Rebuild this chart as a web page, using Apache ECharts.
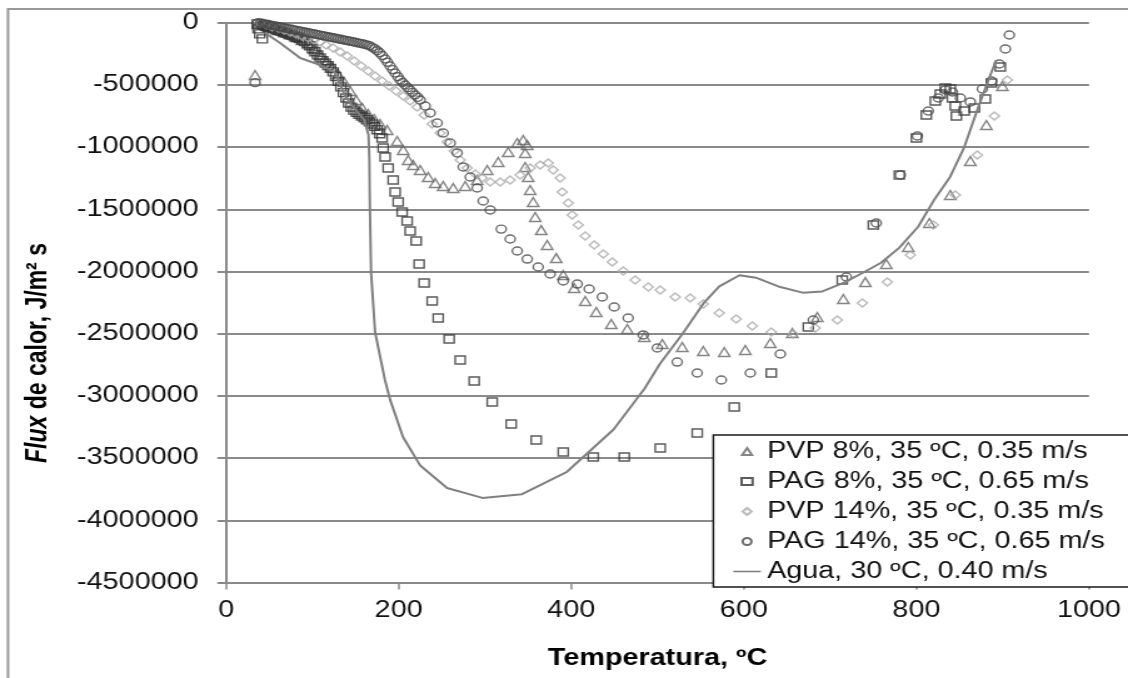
<!DOCTYPE html>
<html>
<head>
<meta charset="utf-8">
<script src="https://cdn.jsdelivr.net/npm/echarts@6/dist/echarts.min.js"></script>
<style>
html,body{margin:0;padding:0;background:#fff;overflow:hidden;}
#wrap{width:1128px;height:678px;overflow:hidden;position:relative;background:#fff;}
#c{width:902px;height:678px;transform:scaleX(1.25055);transform-origin:0 0;}
</style>
</head>
<body>
<div id="wrap"><div id="c"></div></div>
<script>
// ---- DATA (Temperatura ºC, Flux de calor J/m2 s) ----
const seriesNames = [
  'PVP 8%, 35 ºC, 0.35 m/s',
  'PAG 8%, 35 ºC, 0.65 m/s',
  'PVP 14%, 35 ºC, 0.35 m/s',
  'PAG 14%, 35 ºC, 0.65 m/s',
  'Agua, 30 ºC, 0.40 m/s'
];
const xAxisTitle = 'Temperatura, ºC';
const yAxisTitleItalic = 'Flux';
const yAxisTitleRest = ' de calor, J/m² s';

const pvp8 = [
  [33.6,-420000],[37,-10000],[41.7,-10500],[47.5,-26500],[53.3,-42600],[60.3,-58700],[67.2,-74800],
  [74.2,-90800],[81.2,-115000],[88.1,-139000],[95.1,-171000],[102,-211000],[109,-260000],
  [115.9,-308000],[122.9,-356000],[129.8,-412000],[136.8,-477000],[143.8,-549000],[150.7,-621000],
  [157.7,-686000],[164.6,-734000],[171.6,-774000],[178.5,-814000],[186.6,-863000],[198.2,-951000],
  [205.2,-1023000],[211,-1104000],[216.8,-1144000],[224.9,-1184000],[234.2,-1240000],[242.3,-1289000],
  [251.6,-1313000],[263.2,-1329000],[277.1,-1313000],[291,-1265000],[302.6,-1184000],[315.3,-1120000],
  [326.9,-1039000],[337.4,-967000],[344.3,-943000],[349,-983000],[346.6,-1047000],[346.6,-1160000],
  [350.1,-1240000],[352.4,-1345000],[355.9,-1441000],[358.2,-1562000],[365.2,-1667000],[372.1,-1787000],
  [382.6,-1892000],[390.7,-2028000],[403.4,-2133000],[416.2,-2237000],[428.9,-2326000],[446.3,-2422000],
  [464.9,-2462000],[484.6,-2527000],[505.5,-2583000],[528.6,-2607000],[553,-2639000],[577.3,-2647000],
  [601.7,-2631000],[630.7,-2575000],[656.2,-2494000],[685.1,-2366000],[715.3,-2221000],[740.8,-2085000],
  [765.1,-1940000],[790.6,-1803000],[815,-1610000],[839.3,-1385000],[862.5,-1112000],[881.1,-822000],
  [899.6,-509000]
];
const pag8 = [
  [36,-10000],[37,-50000],[39,-90000],[42,-130000],[43,-20000],[46,-28000],[49,-35000],[52,-41000],
  [55,-50000],[58,-58000],[61,-64000],[64,-70000],[67,-79000],[70,-86000],[73,-95000],[76,-102000],
  [79,-111000],[82,-119000],[85,-128000],[88,-140000],[91,-152000],[94,-166000],[97,-185000],
  [100,-208000],[103,-234000],[106,-259000],[109,-283000],[112,-305000],[115,-325000],[118,-345000],
  [121,-367000],[124,-395000],[127,-433000],[130,-472000],[133,-516000],[136,-562000],[139,-605000],
  [142,-645000],[145,-679000],[148,-703000],[151,-720000],[154,-736000],[157,-750000],[160,-764000],
  [163,-780000],[166,-797000],[169,-814000],[172,-833000],[175,-860000],[178,-893000],[180.8,-927000],
  [182,-1007000],[184.3,-1080000],[187.8,-1168000],[193.6,-1265000],
  [195.9,-1361000],[199.4,-1441000],[204,-1522000],[209.8,-1594000],[213.3,-1675000],[220.3,-1755000],
  [223.7,-1940000],[229.5,-2093000],[238.8,-2237000],[245.8,-2374000],[258.5,-2543000],[271.3,-2712000],
  [287.5,-2880000],[308.4,-3049000],[330.4,-3226000],[359.4,-3355000],[390.7,-3451000],[425.5,-3491000],
  [461.4,-3491000],[503.1,-3419000],[546,-3298000],[588.9,-3089000],[631.8,-2816000],[674.7,-2446000],
  [714.1,-2068000],[750.1,-1626000],[780.2,-1224000],[800,-927000],[811.5,-742000],[821.9,-629000],
  [827.7,-573000],[833.5,-525000],[839.3,-533000],[841.7,-605000],[845.1,-670000],[846.3,-750000],
  [855.5,-710000],[867.2,-686000],[879.9,-613000],[886.9,-485000],[897.3,-356000]
];
const pvp14 = [
  [39.4,-2400],[46.4,-18500],[53.3,-34600],[60.3,-42600],[67.2,-58700],[74.2,-74800],[81.2,-90800],
  [88.1,-106900],[95.1,-123000],[102,-139000],[109,-155000],[115.9,-179000],[124,-203000],[132.2,-236000],
  [140.3,-268000],[148.4,-308000],[156.5,-348000],[164.6,-388000],[172.7,-428000],[180.8,-469000],
  [189,-509000],[197.1,-549000],[205.2,-589000],[213.3,-629000],[221.4,-678000],[229.5,-742000],
  [238.8,-814000],[248.1,-887000],[256.2,-959000],[264.3,-1031000],[271.3,-1104000],[279.4,-1168000],
  [288.7,-1216000],[296.8,-1248000],[306.1,-1281000],[317.7,-1281000],[329.2,-1265000],[340.8,-1224000],
  [352.4,-1168000],[364,-1144000],[373.3,-1128000],[379.1,-1184000],[387.2,-1248000],[389.5,-1361000],
  [396.5,-1449000],[401.1,-1546000],[408.1,-1626000],[416.2,-1715000],[426.6,-1787000],[437.1,-1860000],
  [447.5,-1924000],[460.2,-1996000],[474.1,-2068000],[489.2,-2125000],[503.1,-2149000],[520.5,-2205000],
  [537.9,-2213000],[553,-2261000],[571.5,-2334000],[591.2,-2382000],[609.8,-2438000],[631.8,-2486000],
  [657.3,-2503000],[682.8,-2454000],[708.3,-2390000],[737.3,-2253000],[766.3,-2085000],[793,-1868000],
  [819.6,-1626000],[845.1,-1385000],[870.6,-1063000],[890.3,-750000],[905.4,-461000]
];
const pag14 = [
  [33.6,-482000],[37,-1000],[40,-3500],[43,-7000],[46,-11500],[49,-15000],[52,-20000],[55,-23500],
  [58,-28500],[61,-32000],[64,-37000],[67,-40500],[70,-45000],[73,-49500],[76,-53000],[79,-58000],
  [82,-61500],[85,-66500],[88,-70000],[91,-74500],[94,-78500],[97,-83000],[100,-87500],[103,-91000],
  [106,-96000],[109,-99500],[112,-104500],[115,-108000],[118,-113000],[121,-116500],[124,-121500],
  [127,-125000],[130,-130000],[133,-133500],[136,-138500],[139,-142000],[142,-147000],[145,-150500],
  [148,-155500],[151,-159000],[154,-164000],[157,-168000],[160,-173500],[163,-178000],[166,-185000],
  [169,-196000],[172,-208000],[175,-225000],[178,-242000],[181,-264000],[184.3,-292000],[187,-318000],
  [190.1,-348000],[193,-377000],[195.9,-404000],[199,-434000],[201.7,-461000],[204.5,-481000],
  [207.5,-501000],[210.5,-522000],[213.3,-541000],[216,-560000],[219.1,-581000],[222,-600000],
  [224.9,-621000],[230.7,-670000],[236.5,-726000],[244.6,-806000],[251.6,-887000],
  [259.7,-967000],[267.8,-1047000],[274.8,-1160000],[282.9,-1240000],[291,-1329000],[297.9,-1433000],
  [306.1,-1506000],[318.8,-1659000],[329.2,-1739000],[337.4,-1835000],[349,-1900000],[361.7,-1964000],
  [375.6,-2020000],[390.7,-2076000],[406.9,-2101000],[420.8,-2141000],[435.9,-2205000],[449.8,-2285000],
  [466,-2374000],[483.4,-2510000],[499.7,-2615000],[522.8,-2728000],[546,-2816000],[573.9,-2872000],
  [607.5,-2816000],[642.3,-2663000],[680.5,-2390000],[718.8,-2044000],[753.5,-1610000],[781.4,-1224000],
  [801.1,-911000],[813.8,-710000],[825.4,-605000],[833.5,-541000],[841.7,-557000],[850.9,-605000],
  [862.5,-637000],[876.4,-533000],[886.9,-469000],[896.1,-332000],[903.1,-211000],[907.7,-99000]
];
const agua = [
  [45,-80000],[62.6,-163000],[85.8,-284000],[109,-340000],[126,-400000],[138,-590000],[150,-700000],
  [160,-780000],[165,-900000],[166,-1100000],[166.5,-1430000],[168,-2010000],[172.7,-2490000],
  [184,-2870000],[190,-3030000],[205,-3330000],[225,-3560000],[256,-3740000],[297,-3820000],
  [343,-3790000],[395,-3610000],[449,-3270000],[485,-2940000],[503,-2740000],[529,-2500000],
  [554,-2250000],[571.5,-2120000],[595,-2030000],[614,-2050000],[640,-2120000],[668,-2170000],
  [691,-2160000],[716,-2090000],[738,-2010000],[759,-1930000],[780,-1810000],[802,-1640000],
  [820,-1430000],[839,-1240000],[855.5,-1000000],[870.6,-700000],[885.7,-420000],[892.6,-300000]
];

const FONT = '"Liberation Sans", Arial, sans-serif';
const chart = echarts.init(document.getElementById('c'));

function scatter(name, data, symbol, size, color) {
  return {
    name: name, type: 'scatter', data: data, symbol: symbol, symbolSize: size,
    itemStyle: { color: 'rgba(0,0,0,0)', borderColor: color, borderWidth: 1.4 },
    emphasis: { disabled: true }
  };
}

const legendIcons = [
  'path://M5,0L10,9L0,9Z',
  'path://M0,0L10,0L10,8L0,8Z',
  'path://M5,0L10,5L5,10L0,5Z',
  'path://M10,5A5,5,0,1,1,0,5A5,5,0,1,1,10,5Z',
  'path://M0,0L22,0L22,1.6L0,1.6Z'
];

chart.setOption({
  animation: false,
  backgroundColor: '#fff',
  grid: { left: 180.8, right: 31.2, top: 22.7, bottom: 95.5, containLabel: false },
  xAxis: {
    type: 'value', min: 0, max: 1000, interval: 200,
    name: xAxisTitle, nameLocation: 'middle', nameGap: 65,
    nameTextStyle: { fontFamily: FONT, fontSize: 23, fontWeight: 'bold', color: '#000' },
    axisLine: { show: true, onZero: false, lineStyle: { color: '#8a8a8a', width: 2 } },
    axisTick: { show: true, inside: false, length: 7, lineStyle: { color: '#8a8a8a', width: 1.5 } },
    axisLabel: { fontFamily: FONT, fontSize: 23, color: '#111', margin: 17,
      formatter: function (v) { return String(v); } },
    splitLine: { show: false }
  },
  yAxis: {
    type: 'value', min: -4500000, max: 0, interval: 500000,
    axisLine: { show: true, onZero: false, lineStyle: { color: '#8a8a8a', width: 2 } },
    axisTick: { show: true, inside: false, length: 7, lineStyle: { color: '#8a8a8a', width: 2 } },
    axisLabel: { fontFamily: FONT, fontSize: 23, color: '#111', margin: 22,
      formatter: function (v) { return String(v); } },
    splitLine: { show: true, lineStyle: { color: '#8a8a8a', width: 2 } }
  },
  legend: {
    orient: 'vertical', left: 570.4, top: 435,
    padding: [5, 60, 4, 16], itemGap: 7, itemWidth: 22, itemHeight: 7,
    symbolKeepAspect: true,
    backgroundColor: '#fff', borderColor: '#1a1a1a', borderWidth: 1.5,
    textStyle: { fontFamily: FONT, fontSize: 23, color: '#111', lineHeight: 22 },
    data: seriesNames.map(function (n, i) { return { name: n, icon: legendIcons[i] }; })
  },
  graphic: [
    { type: 'rect', silent: true, z: -1,
      shape: { x: 6.4, y: 9, width: 1200, height: 1000 },
      style: { fill: 'none', stroke: '#999', lineWidth: 2 } },
    { type: 'text', x: 30.4, y: 353, rotation: Math.PI / 2,
      style: {
        text: '{i|' + yAxisTitleItalic + '}{n|' + yAxisTitleRest + '}',
        align: 'center', verticalAlign: 'middle',
        rich: {
          i: { fontFamily: FONT, fontSize: 23, fontWeight: 'bold', fontStyle: 'italic', fill: '#000' },
          n: { fontFamily: FONT, fontSize: 23, fontWeight: 'bold', fill: '#000' }
        }
      } }
  ],
  series: [
    scatter(seriesNames[0], pvp8, 'triangle', 9, '#666'),
    scatter(seriesNames[1], pag8, 'rect', 8, '#333'),
    scatter(seriesNames[2], pvp14, 'diamond', 8, '#aaa'),
    scatter(seriesNames[3], pag14, 'circle', 8, '#4a4a4a'),
    {
      name: seriesNames[4], type: 'line', data: agua, showSymbol: false, symbol: 'none',
      smooth: false, lineStyle: { color: '#808080', width: 2 }, itemStyle: { color: '#808080' },
      emphasis: { disabled: true }, z: 3
    }
  ]
});
</script>
</body>
</html>
